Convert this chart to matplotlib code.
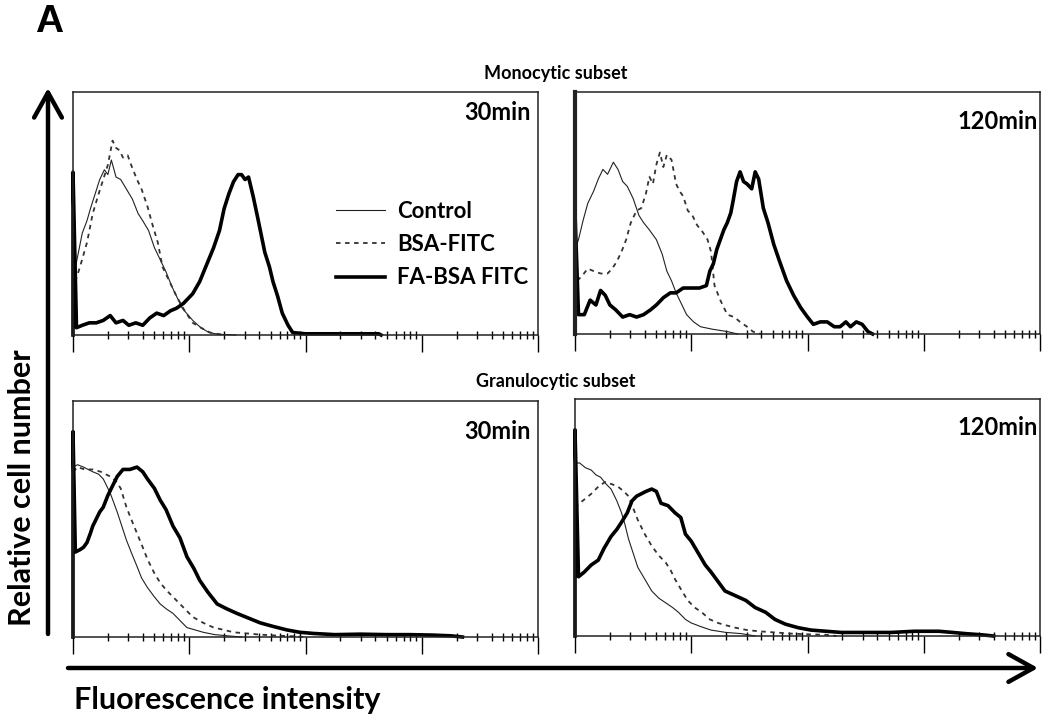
import matplotlib
import matplotlib.pyplot as plt
import numpy as np

matplotlib.use("Agg")

FONT = ["Lato", "DejaVu Sans"]

# x values are log10 of fluorescence intensity (decades), y values are relative counts
MONO_30_CTRL_X = [0.00, 0.03, 0.08, 0.12, 0.15, 0.19, 0.23, 0.27, 0.30, 0.33, 0.37, 0.41, 0.46, 0.51,
                  0.56, 0.60, 0.65, 0.70, 0.75, 0.80, 0.85, 0.89, 0.94, 1.03, 1.10, 1.17, 1.25, 1.40]
MONO_30_CTRL_Y = [0.25, 0.30, 0.42, 0.47, 0.52, 0.58, 0.64, 0.68, 0.66, 0.72, 0.65, 0.64, 0.60, 0.56,
                  0.50, 0.47, 0.43, 0.36, 0.31, 0.26, 0.20, 0.16, 0.11, 0.06, 0.03, 0.01, 0.003, 0.0]
MONO_30_BSA_X = [0.02, 0.06, 0.12, 0.17, 0.22, 0.26, 0.30, 0.34, 0.37, 0.40, 0.43, 0.47, 0.50, 0.55,
                 0.59, 0.64, 0.68, 0.73, 0.77, 0.83, 0.89, 0.96, 1.03, 1.10, 1.18, 1.30]
MONO_30_BSA_Y = [0.22, 0.28, 0.38, 0.50, 0.58, 0.64, 0.70, 0.80, 0.77, 0.76, 0.73, 0.74, 0.70, 0.64,
                 0.60, 0.53, 0.46, 0.38, 0.28, 0.22, 0.16, 0.10, 0.05, 0.03, 0.01, 0.0]
MONO_30_FA_X = [0.0, 0.0, 0.03, 0.08, 0.14, 0.20, 0.26, 0.32, 0.37, 0.43, 0.48, 0.54, 0.60, 0.66,
                0.72, 0.78, 0.84, 0.89, 0.95, 1.03, 1.09, 1.15, 1.21, 1.26, 1.30, 1.34, 1.38, 1.42,
                1.45, 1.48, 1.51, 1.55, 1.59, 1.62, 1.65, 1.69, 1.72, 1.76, 1.80, 1.85, 1.89, 2.0,
                2.3, 2.63, 2.65]
MONO_30_FA_Y = [0.0, 0.67, 0.03, 0.04, 0.05, 0.05, 0.06, 0.08, 0.05, 0.06, 0.04, 0.05, 0.04, 0.07,
                0.09, 0.08, 0.10, 0.11, 0.13, 0.17, 0.22, 0.29, 0.36, 0.43, 0.52, 0.58, 0.63, 0.66,
                0.66, 0.64, 0.65, 0.57, 0.48, 0.41, 0.34, 0.28, 0.22, 0.16, 0.09, 0.04, 0.01, 0.005,
                0.005, 0.005, 0.0]

MONO_120_CTRL_X = [0.0, 0.03, 0.07, 0.11, 0.16, 0.20, 0.24, 0.28, 0.33, 0.37, 0.41, 0.45, 0.50, 0.55,
                   0.59, 0.64, 0.70, 0.75, 0.79, 0.83, 0.87, 0.92, 0.96, 1.02, 1.08, 1.18, 1.31, 1.40]
MONO_120_CTRL_Y = [0.35, 0.39, 0.47, 0.54, 0.59, 0.64, 0.68, 0.66, 0.71, 0.68, 0.63, 0.61, 0.56, 0.49,
                   0.46, 0.43, 0.39, 0.33, 0.26, 0.22, 0.17, 0.12, 0.08, 0.05, 0.03, 0.02, 0.01, 0.0]
MONO_120_BSA_X = [0.02, 0.06, 0.11, 0.16, 0.22, 0.28, 0.32, 0.36, 0.40, 0.44, 0.48, 0.53, 0.57, 0.61,
                  0.64, 0.67, 0.70, 0.73, 0.76, 0.79, 0.83, 0.87, 0.90, 0.93, 0.97, 1.01, 1.05, 1.10,
                  1.14, 1.17, 1.20, 1.25, 1.31, 1.37, 1.42, 1.48, 1.53, 1.60]
MONO_120_BSA_Y = [0.22, 0.24, 0.27, 0.26, 0.25, 0.25, 0.27, 0.30, 0.34, 0.39, 0.46, 0.51, 0.52, 0.58,
                  0.65, 0.62, 0.70, 0.75, 0.69, 0.74, 0.72, 0.62, 0.59, 0.57, 0.51, 0.49, 0.45, 0.42,
                  0.39, 0.34, 0.20, 0.14, 0.08, 0.07, 0.05, 0.03, 0.01, 0.0]
MONO_120_FA_X = [0.0, 0.0, 0.03, 0.08, 0.13, 0.18, 0.22, 0.26, 0.30, 0.35, 0.41, 0.47, 0.53, 0.59,
                 0.65, 0.70, 0.76, 0.82, 0.87, 0.93, 1.00, 1.07, 1.13, 1.16, 1.19, 1.22, 1.25, 1.28,
                 1.31, 1.34, 1.36, 1.39, 1.42, 1.45, 1.48, 1.52, 1.55, 1.58, 1.62, 1.66, 1.71, 1.76,
                 1.82, 1.88, 1.94, 2.00, 2.05, 2.11, 2.17, 2.23, 2.28, 2.33, 2.37, 2.42, 2.47, 2.52,
                 2.56]
MONO_120_FA_Y = [0.0, 0.50, 0.08, 0.08, 0.14, 0.12, 0.18, 0.16, 0.12, 0.10, 0.07, 0.08, 0.07, 0.08,
                 0.10, 0.12, 0.15, 0.17, 0.17, 0.19, 0.19, 0.19, 0.20, 0.26, 0.29, 0.35, 0.39, 0.43,
                 0.46, 0.50, 0.55, 0.63, 0.67, 0.63, 0.62, 0.60, 0.67, 0.64, 0.52, 0.46, 0.37, 0.30,
                 0.22, 0.16, 0.11, 0.07, 0.04, 0.05, 0.05, 0.03, 0.03, 0.05, 0.03, 0.05, 0.04, 0.01,
                 0.0]

GRAN_30_CTRL_X = [0.00, 0.04, 0.09, 0.13, 0.17, 0.22, 0.26, 0.29, 0.32, 0.35, 0.38, 0.42, 0.46, 0.50,
                  0.55, 0.59, 0.64, 0.70, 0.75, 0.80, 0.86, 0.92, 0.98, 1.05, 1.12, 1.22, 1.33, 1.45]
GRAN_30_CTRL_Y = [0.72, 0.73, 0.72, 0.71, 0.70, 0.69, 0.67, 0.64, 0.61, 0.57, 0.53, 0.47, 0.41, 0.36,
                  0.30, 0.25, 0.21, 0.17, 0.14, 0.12, 0.10, 0.07, 0.04, 0.03, 0.02, 0.01, 0.005, 0.0]
GRAN_30_BSA_X = [0.00, 0.04, 0.10, 0.17, 0.24, 0.32, 0.37, 0.41, 0.46, 0.50, 0.55, 0.60, 0.64, 0.70,
                 0.75, 0.80, 0.86, 0.94, 1.03, 1.12, 1.21, 1.30, 1.38, 1.50, 1.61, 1.75, 1.90, 2.0]
GRAN_30_BSA_Y = [0.70, 0.72, 0.71, 0.71, 0.70, 0.68, 0.66, 0.63, 0.55, 0.50, 0.44, 0.38, 0.33, 0.27,
                 0.23, 0.20, 0.17, 0.13, 0.085, 0.06, 0.04, 0.03, 0.02, 0.015, 0.01, 0.006, 0.003, 0.0]
GRAN_30_FA_X = [0.0, 0.0, 0.02, 0.06, 0.09, 0.12, 0.15, 0.17, 0.20, 0.23, 0.26, 0.30, 0.34, 0.38,
                0.43, 0.49, 0.55, 0.60, 0.64, 0.70, 0.75, 0.80, 0.86, 0.92, 0.98, 1.04, 1.09, 1.16,
                1.24, 1.32, 1.41, 1.51, 1.61, 1.72, 1.84, 1.95, 2.07, 2.25, 2.47, 2.70, 2.90, 3.10,
                3.25, 3.35]
GRAN_30_FA_Y = [0.0, 0.87, 0.36, 0.37, 0.38, 0.40, 0.44, 0.47, 0.50, 0.53, 0.55, 0.60, 0.64, 0.68,
                0.71, 0.71, 0.72, 0.70, 0.67, 0.63, 0.58, 0.54, 0.47, 0.42, 0.34, 0.29, 0.24, 0.19,
                0.14, 0.12, 0.10, 0.08, 0.06, 0.045, 0.03, 0.02, 0.015, 0.01, 0.012, 0.01, 0.01, 0.008,
                0.005, 0.0]

GRAN_120_CTRL_X = [0.00, 0.04, 0.09, 0.14, 0.18, 0.22, 0.27, 0.31, 0.36, 0.40, 0.43, 0.46, 0.50, 0.54,
                   0.60, 0.66, 0.72, 0.78, 0.84, 0.89, 0.95, 1.00, 1.08, 1.17, 1.30, 1.43, 1.55]
GRAN_120_CTRL_Y = [0.73, 0.73, 0.71, 0.70, 0.68, 0.67, 0.64, 0.62, 0.57, 0.52, 0.47, 0.41, 0.35, 0.29,
                   0.24, 0.19, 0.16, 0.14, 0.12, 0.10, 0.07, 0.055, 0.04, 0.025, 0.015, 0.01, 0.0]
GRAN_120_BSA_X = [0.00, 0.04, 0.09, 0.14, 0.20, 0.26, 0.32, 0.37, 0.42, 0.46, 0.50, 0.54, 0.60, 0.66,
                  0.72, 0.78, 0.82, 0.86, 0.92, 0.97, 1.03, 1.09, 1.16, 1.23, 1.30, 1.38, 1.48, 1.58,
                  1.72, 1.86, 2.01, 2.16, 2.25]
GRAN_120_BSA_Y = [0.54, 0.56, 0.58, 0.60, 0.63, 0.65, 0.64, 0.63, 0.61, 0.59, 0.54, 0.49, 0.43, 0.38,
                  0.34, 0.31, 0.28, 0.24, 0.19, 0.15, 0.12, 0.10, 0.07, 0.055, 0.045, 0.035, 0.025, 0.02,
                  0.015, 0.01, 0.007, 0.005, 0.0]
GRAN_120_FA_X = [0.0, 0.0, 0.03, 0.08, 0.14, 0.20, 0.25, 0.31, 0.36, 0.40, 0.45, 0.49, 0.53, 0.57,
                 0.61, 0.66, 0.70, 0.74, 0.80, 0.86, 0.91, 0.95, 1.00, 1.06, 1.12, 1.17, 1.23, 1.29,
                 1.38, 1.47, 1.55, 1.64, 1.72, 1.81, 1.92, 2.03, 2.16, 2.29, 2.50, 2.72, 2.92, 3.13,
                 3.25, 3.36, 3.50, 3.60]
GRAN_120_FA_Y = [0.0, 0.87, 0.25, 0.27, 0.30, 0.32, 0.37, 0.42, 0.45, 0.48, 0.52, 0.57, 0.59, 0.60,
                 0.61, 0.62, 0.61, 0.56, 0.55, 0.52, 0.50, 0.43, 0.40, 0.35, 0.30, 0.27, 0.23, 0.19,
                 0.17, 0.15, 0.12, 0.10, 0.07, 0.05, 0.035, 0.025, 0.02, 0.015, 0.015, 0.015, 0.02, 0.02,
                 0.015, 0.01, 0.005, 0.0]

SERIES_LABELS = ["Control", "BSA-FITC", "FA-BSA FITC"]
TIME_LABELS = ["30min", "120min", "30min", "120min"]

W, H = 1045, 719


def px_box(left, top, right, bottom):
    return [left / W, 1 - bottom / H, (right - left) / W, (bottom - top) / H]


def draw_panel(fig, box, curves, time_label, label_pos):
    ax = fig.add_axes(box)
    styles = [
        dict(color="#222222", lw=0.8),
        dict(color="#333333", lw=1.3, dashes=(2.5, 2.5)),
        dict(color="black", lw=2.6),
    ]
    lines = []
    for (xs, ys), st, lab in zip(curves, styles, SERIES_LABELS):
        (ln,) = ax.plot(np.power(10.0, xs), ys, label=lab, clip_on=False, **st)
        lines.append(ln)

    ax.set_xscale("log")
    ax.set_xlim(1, 1e4)
    ax.set_ylim(0, 1)
    ax.set_yticks([])
    ax.tick_params(axis="x", which="major", direction="out", length=12, width=1.0,
                   labelbottom=False)
    ax.tick_params(axis="x", which="minor", direction="inout", length=6, width=1.0,
                   labelbottom=False)
    for sp in ax.spines.values():
        sp.set_linewidth(1.1)
        sp.set_color("#222222")

    ax.text(label_pos[0], label_pos[1], time_label, transform=ax.transAxes,
            ha="right", va="center", fontsize=17, fontweight="bold", family=FONT)
    return ax, lines


def main():
    fig = plt.figure(figsize=(W / 100, H / 100), dpi=100)

    ax_tl, lines = draw_panel(
        fig, px_box(73, 92, 538, 335),
        [(MONO_30_CTRL_X, MONO_30_CTRL_Y), (MONO_30_BSA_X, MONO_30_BSA_Y),
         (MONO_30_FA_X, MONO_30_FA_Y)],
        TIME_LABELS[0], (0.985, 0.915))
    ax_tr, _ = draw_panel(
        fig, px_box(575, 92, 1040, 334),
        [(MONO_120_CTRL_X, MONO_120_CTRL_Y), (MONO_120_BSA_X, MONO_120_BSA_Y),
         (MONO_120_FA_X, MONO_120_FA_Y)],
        TIME_LABELS[1], (0.995, 0.88))
    ax_tr.spines["left"].set_linewidth(3)
    draw_panel(
        fig, px_box(73, 401, 538, 637),
        [(GRAN_30_CTRL_X, GRAN_30_CTRL_Y), (GRAN_30_BSA_X, GRAN_30_BSA_Y),
         (GRAN_30_FA_X, GRAN_30_FA_Y)],
        TIME_LABELS[2], (0.985, 0.87))
    draw_panel(
        fig, px_box(575, 399, 1040, 636),
        [(GRAN_120_CTRL_X, GRAN_120_CTRL_Y), (GRAN_120_BSA_X, GRAN_120_BSA_Y),
         (GRAN_120_FA_X, GRAN_120_FA_Y)],
        TIME_LABELS[3], (0.995, 0.88))

    ax_tl.legend(handles=lines, loc="upper left", bbox_to_anchor=(0.542, 0.597),
                 frameon=False, borderpad=0, handlelength=2.2, handletextpad=0.55,
                 labelspacing=0.55, prop=dict(family=FONT, weight="bold", size=16))

    fig.text(556 / W, 1 - 73 / H, "Monocytic subset", ha="center", va="center",
             fontsize=13, fontweight="bold", family=FONT)
    fig.text(556 / W, 1 - 381 / H, "Granulocytic subset", ha="center", va="center",
             fontsize=13, fontweight="bold", family=FONT)

    fig.text(22 / W, 1 - 488 / H, "Relative cell number", rotation=90, ha="center",
             va="center", fontsize=22, fontweight="bold", family=FONT)
    fig.text(74 / W, 1 - 700 / H, "Fluorescence intensity", ha="left", va="center",
             fontsize=22, fontweight="bold", family=FONT)
    fig.text(35 / W, 1 - 22 / H, "A", ha="left", va="center", fontsize=28,
             fontweight="bold", family=["Liberation Sans", "DejaVu Sans"])

    arrowstyle = "->,head_length=0.9,head_width=0.5"
    fig.add_artist(matplotlib.patches.FancyArrowPatch(
        (68 / W, 1 - 668 / H), (1038 / W, 1 - 668 / H), transform=fig.transFigure,
        arrowstyle=arrowstyle, mutation_scale=20, lw=3.2, color="black",
        shrinkA=0, shrinkB=0))
    fig.add_artist(matplotlib.patches.FancyArrowPatch(
        (48 / W, 1 - 634 / H), (48 / W, 1 - 88 / H), transform=fig.transFigure,
        arrowstyle=arrowstyle, mutation_scale=20, lw=3.2, color="black",
        shrinkA=0, shrinkB=0))

    fig.savefig("out.png", dpi=100)
    plt.close(fig)


if __name__ == "__main__":
    main()
